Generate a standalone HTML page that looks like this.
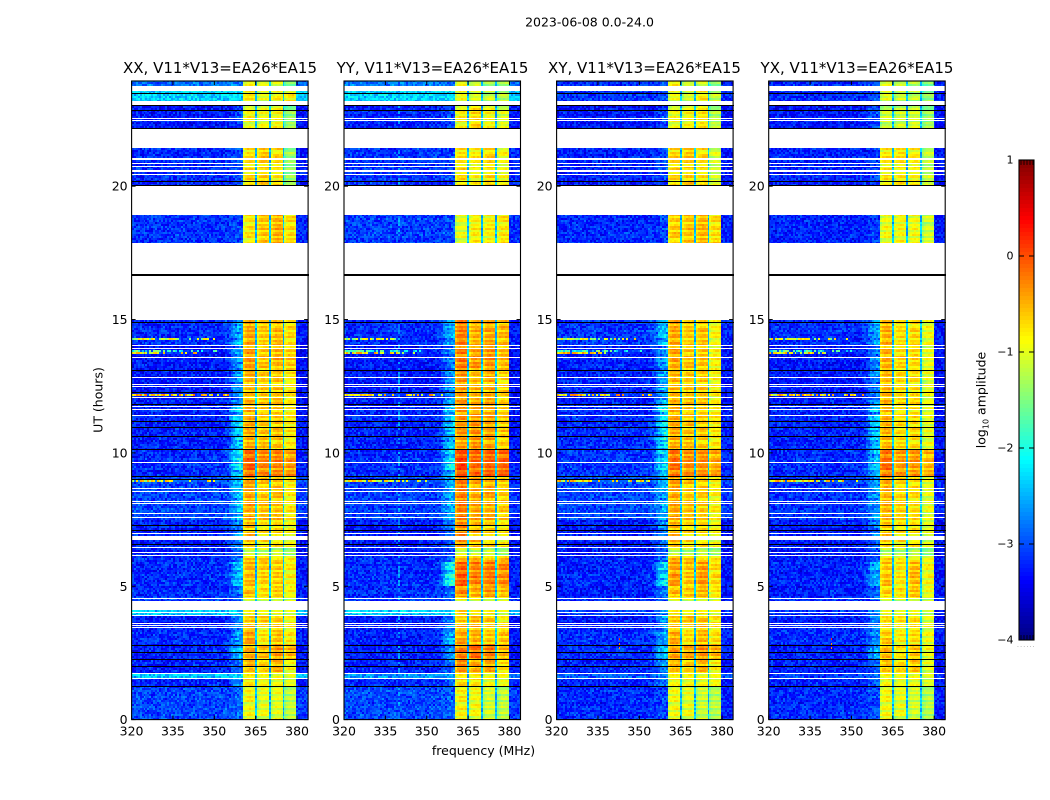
<!DOCTYPE html>
<html lang="en">
<head>
<meta charset="utf-8">
<title>2023-06-08 0.0-24.0</title>
<style>
html,body{margin:0;padding:0;background:#fff;}
#figure{display:block;width:1050px;height:800px;}
text{font-family:"DejaVu Sans","Liberation Sans",sans-serif;fill:#000;}
</style>
</head>
<body>
<svg id="figure" xmlns="http://www.w3.org/2000/svg" width="1050" height="800" viewBox="0 0 1050 800">
  <rect width="1050" height="800" fill="#fff"/>
  <text x="589.5" y="26.5" font-size="12.5" text-anchor="middle">2023-06-08 0.0-24.0</text>
  <text x="220" y="73" font-size="15" text-anchor="middle">XX, V11*V13=EA26*EA15</text>
  <text x="432.5" y="73" font-size="15" text-anchor="middle">YY, V11*V13=EA26*EA15</text>
  <text x="644.5" y="73" font-size="15" text-anchor="middle">XY, V11*V13=EA26*EA15</text>
  <text x="857" y="73" font-size="15" text-anchor="middle">YX, V11*V13=EA26*EA15</text>
  <text transform="translate(102.5,400) rotate(-90)" font-size="12.5" text-anchor="middle">UT (hours)</text>
  <text x="483.5" y="755" font-size="12.5" text-anchor="middle">frequency (MHz)</text>
  <text transform="translate(985.5,400) rotate(-90)" font-size="12.5" text-anchor="middle">log<tspan font-size="8" dy="3">10</tspan><tspan dy="-3"> amplitude</tspan></text>
  <text x="1017" y="647" font-size="6" fill="#888" style="fill:#888;letter-spacing:1.2px">......</text>
  <g id="panels"></g>
  <g id="colorbar"></g>
</svg>
<script>
// ---- axis tick values ----
const xTickValues = [320, 335, 350, 365, 380];
const yTickValues = [0, 5, 10, 15, 20];
const colorbarTickValues = [-4, -3, -2, -1, 0, 1];
const colorbarTickLabels = ['\u22124', '\u22123', '\u22122', '\u22121', '0', '1'];

// ---- observation blocks: [start hour, end hour] ----
const sectionHours = [
  [0, 1.25], [1.25, 1.55], [1.55, 1.70], [1.70, 2.22], [2.22, 2.82],
  [2.82, 3.54], [3.54, 3.91], [3.91, 4.10], [4.44, 4.59], [4.59, 5.0],
  [5.0, 5.9], [5.9, 6.12], [6.12, 6.46], [6.46, 7.47], [7.47, 9.12],
  [9.12, 10.13], [10.13, 11.82], [11.82, 13.10], [13.10, 14.03], [14.03, 14.99],
  [17.86, 18.91], [20.03, 21.42], [22.17, 23.03], [23.14, 23.57], [23.75, 23.95]
];

// ---- log10 amplitude per block: [background, 352-360 MHz haze, band 1, band 2, band 3, band 4] ----
const levelsXX = [
  [-3.05,-2.9,-0.95,-1.05,-1.05,-1.25],[-3.25,-2.75,-0.85,-0.95,-1.0,-1.15],[-2.45,-2.35,-0.9,-1.0,-1.0,-1.15],
  [-3.25,-2.85,-0.65,-0.75,-0.6,-0.95],[-3.25,-2.45,-0.55,-0.65,-0.45,-0.6],[-3.2,-2.65,-0.5,-0.85,-0.65,-0.85],
  [-3.3,-2.75,-0.7,-0.7,-0.7,-0.95],[-2.4,-2.35,-0.9,-1.0,-1.0,-1.1],[-3.1,-2.85,-1.05,-1.1,-1.05,-1.2],
  [-3.2,-2.75,-0.6,-0.8,-0.7,-0.95],[-3.2,-2.45,-0.6,-0.7,-0.7,-0.9],[-3.2,-2.75,-0.65,-0.65,-0.7,-0.95],
  [-3.25,-2.95,-1.2,-1.25,-1.25,-1.4],[-3.25,-2.75,-0.65,-0.8,-0.75,-0.95],[-3.05,-2.45,-0.5,-0.65,-0.65,-0.85],
  [-3.2,-2.2,-0.2,-0.35,-0.35,-0.45],[-3.25,-2.35,-0.55,-0.65,-0.65,-0.85],[-3.3,-2.65,-0.6,-0.7,-0.65,-0.85],
  [-3.3,-2.65,-0.45,-0.65,-0.55,-0.7],[-3.2,-2.55,-0.5,-0.7,-0.6,-0.8],[-3.15,-3.05,-0.85,-0.65,-0.55,-0.8],
  [-3.2,-3.05,-0.8,-0.7,-0.8,-1.4],[-3.3,-3.05,-0.95,-1.0,-0.95,-1.45],[-2.35,-2.3,-0.85,-1.1,-0.95,-0.9],
  [-2.85,-2.75,-1.0,-1.15,-1.05,-1.55]
];
const levelsYY = [
  [-3.05,-2.95,-0.9,-0.95,-1.15,-1.25],[-3.2,-2.85,-0.75,-0.85,-1.0,-1.1],[-2.65,-2.55,-0.9,-0.9,-1.0,-1.05],
  [-3.25,-2.85,-0.45,-0.55,-0.55,-0.8],[-3.25,-2.65,-0.35,-0.25,-0.3,-0.6],[-3.25,-2.55,-0.5,-0.55,-0.7,-0.65],
  [-3.3,-2.85,-0.7,-0.65,-0.7,-0.95],[-2.4,-2.35,-0.7,-0.9,-0.9,-1.1],[-3.1,-2.95,-0.9,-1.0,-1.1,-1.15],
  [-3.2,-2.85,-0.35,-0.55,-0.45,-0.65],[-3.2,-2.05,-0.15,-0.3,-0.3,-0.35],[-3.2,-2.75,-0.55,-0.55,-0.55,-0.65],
  [-3.25,-3.05,-1.15,-1.2,-1.25,-1.4],[-3.3,-2.85,-0.4,-0.55,-0.7,-0.85],[-3.1,-2.55,-0.3,-0.5,-0.55,-0.7],
  [-3.2,-2.25,-0.05,-0.2,-0.2,-0.2],[-3.25,-2.45,-0.45,-0.45,-0.5,-0.7],[-3.3,-2.65,-0.45,-0.6,-0.55,-0.75],
  [-3.3,-2.75,-0.3,-0.45,-0.4,-0.6],[-3.2,-2.55,-0.3,-0.55,-0.5,-0.6],[-3.1,-3.05,-1.05,-0.9,-0.9,-0.85],
  [-3.15,-3.05,-0.8,-0.9,-0.75,-0.95],[-3.25,-3.05,-0.9,-0.75,-0.95,-1.1],[-2.35,-2.3,-1.0,-1.15,-1.2,-1.3],
  [-2.8,-2.75,-1.05,-1.3,-1.35,-1.4]
];
const levelsXY = [
  [-3.2,-3.05,-1.0,-1.05,-1.2,-1.3],[-3.25,-2.85,-0.95,-1.0,-1.0,-1.05],[-2.95,-2.75,-0.95,-0.95,-1.0,-1.05],
  [-3.25,-2.75,-0.65,-0.75,-0.6,-0.9],[-3.2,-2.45,-0.5,-0.55,-0.4,-0.55],[-3.2,-2.65,-0.55,-0.8,-0.6,-0.8],
  [-3.3,-2.65,-0.7,-0.65,-0.65,-0.85],[-3.1,-2.65,-0.85,-0.95,-0.9,-1.05],[-3.2,-2.95,-0.95,-1.05,-1.0,-1.15],
  [-3.25,-2.75,-0.6,-0.7,-0.6,-0.85],[-3.25,-2.25,-0.45,-0.65,-0.45,-0.75],[-3.25,-2.85,-0.5,-0.65,-0.7,-0.85],
  [-3.3,-3.05,-1.25,-1.3,-1.3,-1.4],[-3.3,-2.75,-0.6,-0.75,-0.75,-0.95],[-3.05,-2.55,-0.5,-0.65,-0.7,-0.9],
  [-3.15,-2.35,-0.25,-0.4,-0.4,-0.5],[-3.2,-2.25,-0.55,-0.65,-0.7,-0.85],[-3.25,-2.55,-0.6,-0.7,-0.7,-0.9],
  [-3.25,-2.65,-0.5,-0.65,-0.65,-0.9],[-3.15,-2.45,-0.5,-0.7,-0.65,-0.95],[-3.2,-3.05,-0.7,-0.65,-0.6,-0.8],
  [-3.25,-3.05,-0.75,-0.7,-0.8,-1.1],[-3.3,-3.05,-1.0,-0.95,-0.85,-1.3],[-3.15,-3.05,-1.05,-1.2,-0.85,-1.25],
  [-3.2,-3.05,-0.95,-1.25,-1.1,-1.55]
];
const levelsYX = [
  [-3.2,-3.05,-0.95,-1.05,-1.15,-1.3],[-3.25,-2.95,-0.95,-1.05,-1.0,-1.2],[-3.1,-2.85,-0.95,-1.0,-1.0,-1.2],
  [-3.25,-2.95,-0.7,-0.8,-0.7,-1.05],[-3.25,-2.55,-0.6,-0.85,-0.65,-1.0],[-3.2,-2.75,-0.7,-0.9,-0.8,-1.0],
  [-3.3,-2.75,-0.8,-0.85,-0.8,-1.1],[-3.2,-2.75,-1.0,-1.1,-1.0,-1.2],[-3.2,-2.95,-1.05,-1.1,-1.05,-1.25],
  [-3.25,-2.85,-0.7,-0.85,-0.65,-1.05],[-3.25,-2.55,-0.65,-0.85,-0.6,-0.95],[-3.25,-2.95,-0.7,-0.85,-0.85,-1.05],
  [-3.3,-3.05,-1.3,-1.35,-1.35,-1.5],[-3.3,-2.85,-0.7,-0.8,-0.8,-1.05],[-3.15,-2.65,-0.55,-0.75,-0.8,-1.05],
  [-3.2,-2.45,-0.25,-0.45,-0.45,-0.6],[-3.25,-2.45,-0.6,-0.8,-0.8,-1.05],[-3.3,-2.75,-0.6,-0.8,-0.8,-1.05],
  [-3.3,-2.75,-0.55,-0.75,-0.75,-1.05],[-3.2,-2.65,-0.55,-0.8,-0.75,-1.0],[-3.25,-3.1,-1.0,-0.95,-1.0,-1.15],
  [-3.25,-3.1,-0.85,-0.85,-0.9,-1.2],[-3.3,-3.0,-1.15,-1.2,-1.15,-1.4],[-3.2,-3.05,-1.1,-1.25,-1.25,-1.5],
  [-3.2,-3.05,-1.1,-1.3,-1.25,-1.6]
];

// ---- flagged integrations (white) [start hour, end hour] and zero rows (black) hour ----
const flaggedHours = [
  [22.51,22.55],[22.45,22.49],[20.99,21.07],[20.82,20.87],[20.71,20.75],[20.55,20.60],[20.42,20.47],
  [13.99,14.03],[13.90,13.94],[13.55,13.59],[12.80,12.84],[12.53,12.57],[12.47,12.51],[12.05,12.09],
  [11.73,11.77],[11.61,11.65],[11.38,11.42],[9.62,9.66],[8.64,8.68],[8.55,8.59],[8.17,8.21],[8.09,8.13],
  [7.70,7.74],[7.55,7.59],[6.95,6.99],[6.72,6.88],[6.43,6.47],[6.23,6.27],[6.15,6.19],[4.52,4.56],
  [3.98,4.02],[3.88,3.92],[3.60,3.64],[3.50,3.54],[3.45,3.49],[1.70,1.74],[1.52,1.56],[23.14,23.18]
];
const zeroRowHours = [
  23.48,23.05,22.87,22.17,20.19,20.03,14.92,13.09,12.28,11.82,11.21,10.98,10.64,10.13,9.13,9.01,
  7.31,7.12,6.60,2.81,2.55,2.29,2.02,1.25
];
const thickLineHours = [16.66];

// ---- interference rows: [hour, last affected MHz, log10 amplitude] ----
const rfiRows = [[14.32,350,-1.1],[13.87,352,-1.9],[13.76,346,-0.8],[12.18,356,-0.7],[8.96,354,-0.9]];
// ---- vertical interference lines per panel: [panel index, MHz, log10 amplitude] ----
const rfiColumns = [[1,339.7,-2.6]];
// ---- isolated spikes: [panel index, MHz, hour, log10 amplitude] ----
const spikes = [[2,342.6,3.05,0.2],[2,342.6,2.88,-0.3],[2,342.6,2.72,-0.3],[3,342.6,3.05,0.2],[3,342.6,2.88,-0.3],[3,342.6,2.72,-0.3]];

// ---- channel profiles ----
const hazeProfile = [0,0.03,0.1,0.28,0.52,0.78,0.95,1,0.9]; // 352..360 MHz
const bandEdgeProfile = [-0.18,-0.02,0.05,0.06,0.05,0.02,-0.12]; // across one 5 MHz sub-band
const gapCentres = [365,370,375];
const gapLevel = -2.45;

// ---- image texture sampled as a table: row-to-row stripes and pixel speckle ----
const rowStripes = [0.2,-0.3,0.25,0.1,-0.35,0.3,0.15,-0.2,-0.4,0.3,0.05,0.28,-0.3,0.12,0.3,-0.15,-0.35,0.22,0.1,-0.25,0.3,-0.1,0.18,-0.38,0.26,0.08,-0.22,0.32,-0.05];
const speckle = [
  0.42,-0.71,0.13,0.88,-0.36,-0.92,0.57,0.05,-0.48,0.76,-0.15,0.31,-0.83,0.64,-0.27,0.95,-0.58,0.2,-0.05,0.49,
  -0.97,0.72,0.1,-0.41,0.36,-0.66,0.83,-0.19,0.54,-0.78,0.02,0.67,-0.31,-0.87,0.45,0.91,-0.53,0.24,-0.12,0.6,
  -0.74,0.16,0.8,-0.44,-0.08,0.5,-0.95,0.34,0.7,-0.22,-0.62,0.93,-0.38,0.08,0.58,-0.81,0.27,-0.01,0.85,-0.55,
  0.39,-0.89,0.62,-0.17,0.11,-0.68,0.77,-0.29,0.47,-0.99,0.22,0.69,-0.46,-0.1,0.98,-0.6,0.3,-0.76,0.52,0.03,
  -0.33,0.82,-0.5,0.18,-0.85,0.4,0.74,-0.25,-0.64,0.56,-0.07,0.9,-0.42,0.15,-0.79,0.33,0.61
];

// ---- layout and scales ----
const NS = 'http://www.w3.org/2000/svg';
const panelNames = ['xx','yy','xy','yx'];
const panelLevels = [levelsXX, levelsYY, levelsXY, levelsYX];
const panelLefts = [131.6, 344, 556.6, 768.7];
const panelWidth = 176.5, axisTop = 81, axisBottom = 719.6;
const freqMin = 320, freqMax = 384, freqStep = 0.72, hourStep = 0.075;

function xScale(p, f) { return panelLefts[p] + (f - freqMin) * panelWidth / (freqMax - freqMin); }
function yScale(h) { return axisBottom - h * 26.67; }
function cbScale(v) { return 640 - (v + 4) * 96; }

function jet(t) {
  t = Math.max(0, Math.min(1, t));
  const ramp = c => Math.round(255 * Math.max(0, Math.min(1, 1.5 - Math.abs(4 * t - c))));
  return 'rgb(' + ramp(3) + ',' + ramp(2) + ',' + ramp(1) + ')';
}
function levelToUnit(v) { return (v + 4) / 5; }

function make(tag, attrs, parent) {
  const el = document.createElementNS(NS, tag);
  for (const k in attrs) el.setAttribute(k, attrs[k]);
  parent.appendChild(el);
  return el;
}

function speckleIndex(i) { return Math.floor((speckle[i % speckle.length] + 1) * 48); }

function cellValue(p, lv, f, col, row, hour) {
  const a = speckleIndex(col + p * 13);
  const b = speckleIndex(row + p * 29);
  const t1 = speckle[(a * b + a + 3 * b + col * 5) % speckle.length];
  const t2 = speckle[(a * 7 + b * b + row) % speckle.length];
  for (const rc of rfiColumns) {
    if (rc[0] === p && Math.abs(f - rc[1]) < freqStep / 2 && f < 360 && t1 > 0) return rc[2] + t2 * 0.2;
  }
  for (const r of rfiRows) {
    if (Math.abs(hour - r[0]) < hourStep / 2 && f < r[1]) {
      const keep = 1 - (f - freqMin) / (r[1] - freqMin) * 0.75;
      if ((t1 + 1) / 2 < keep) return r[2] + t2 * 0.6;
    }
  }
  if (f >= 380) return lv[0] - 0.06 + t1 * 0.3;
  if (f >= 360.4) {
    for (const g of gapCentres) if (Math.abs(f - g) < 0.6) return gapLevel + t1 * 0.3;
    const band = Math.min(3, Math.floor((f - 360.4) / 5));
    const pos = Math.min(bandEdgeProfile.length - 1, Math.floor(((f - 360.4) - band * 5) / 5 * bandEdgeProfile.length));
    const stripe = rowStripes[(row + band * 7) % rowStripes.length];
    return lv[2 + band] + bandEdgeProfile[pos] + stripe * 0.62 + t1 * 0.1;
  }
  let v = lv[0];
  const stripe = rowStripes[row % rowStripes.length];
  if (f >= 352) {
    const w = hazeProfile[Math.min(hazeProfile.length - 1, Math.floor(f - 352))];
    v += (lv[1] - lv[0]) * w * (1 + stripe * 0.8);
  }
  return v + t1 * 0.3 + t2 * 0.12 + stripe * 0.12;
}

function drawHeatmap(p, group) {
  const lv = panelLevels[p];
  const paths = {};
  const cols = Math.ceil((freqMax - freqMin) / freqStep);
  sectionHours.forEach((sec, si) => {
    const r0 = Math.floor(sec[0] / hourStep);
    const r1 = Math.ceil(sec[1] / hourStep);
    for (let r = r0; r < r1; r++) {
      const hA = Math.max(r * hourStep, sec[0]);
      const hB = Math.min((r + 1) * hourStep, sec[1]);
      const yB = Math.round(Math.max(axisTop, yScale(hB)));
      const yA = Math.round(yScale(hA));
      if (yA <= yB) continue;
      for (let c = 0; c < cols; c++) {
        const f0 = freqMin + c * freqStep;
        const f1 = Math.min(freqMax, f0 + freqStep);
        const xa = Math.round(xScale(p, f0));
        const xb = Math.round(xScale(p, f1));
        if (xb <= xa) continue;
        const v = cellValue(p, lv[si], (f0 + f1) / 2, c, r, (hA + hB) / 2);
        const idx = Math.max(0, Math.min(127, Math.round(levelToUnit(v) * 127)));
        paths[idx] = (paths[idx] || '') + 'M' + xa + ' ' + yB + 'h' + (xb - xa) + 'v' + (yA - yB) + 'h' + (xa - xb) + 'z';
      }
    }
  });
  Object.keys(paths).forEach(idx => {
    const el = make('path', { d: paths[idx], fill: jet(idx / 127), 'shape-rendering': 'crispEdges' }, group);
    
    
  });
  spikes.filter(s => s[0] === p).forEach(s => {
    const el = make('rect', { x: Math.round(xScale(p, s[1])), y: Math.round(yScale(s[2])), width: 1, height: 2, fill: jet(levelToUnit(s[3])), 'shape-rendering': 'crispEdges' }, group);
    
    
  });
}

function drawRows(p, group) {
  const xa = Math.round(panelLefts[p]);
  const w = Math.round(panelWidth);
  flaggedHours.forEach(b => {
    const yT = Math.round(yScale(b[1]));
    const yB = Math.max(yT + 1, Math.round(yScale(b[0])));
    const el = make('rect', { x: xa, y: yT, width: w, height: yB - yT, fill: '#fff', 'shape-rendering': 'crispEdges' }, group);
    
    
  });
  zeroRowHours.forEach(h => {
    const el = make('rect', { x: xa, y: Math.round(yScale(h)), width: w, height: 1, fill: '#000', 'shape-rendering': 'crispEdges' }, group);
    
    
  });
  thickLineHours.forEach(h => {
    const el = make('rect', { x: xa, y: Math.round(yScale(h)) - 1, width: w, height: 2, fill: '#000', 'shape-rendering': 'crispEdges' }, group);
    
    
  });
}

function drawAxes(p, group) {
  const left = panelLefts[p];
  const right = left + panelWidth;
  xTickValues.forEach(v => {
    const x = xScale(p, v);
    const t1 = make('line', { x1: x, x2: x, y1: axisBottom, y2: axisBottom - 4, stroke: '#000', 'stroke-width': 1 }, group);
    
    
    const t2 = make('line', { x1: x, x2: x, y1: axisTop, y2: axisTop + 4, stroke: '#000', 'stroke-width': 1 }, group);
    
    
    const lab = make('text', { x: x, y: 735.5, 'font-size': 12.5, 'text-anchor': 'middle' }, group);
    lab.textContent = String(v);
    
    
  });
  yTickValues.forEach(v => {
    const y = yScale(v);
    const t1 = make('line', { x1: left, x2: left + 4, y1: y, y2: y, stroke: '#000', 'stroke-width': 1 }, group);
    
    
    const t2 = make('line', { x1: right, x2: right - 4, y1: y, y2: y, stroke: '#000', 'stroke-width': 1 }, group);
    
    
    const lab = make('text', { x: left - 4, y: y + 4.5, 'font-size': 12.5, 'text-anchor': 'end' }, group);
    lab.textContent = String(v);
    
    
  });
  const frame = make('rect', { x: left, y: axisTop, width: panelWidth, height: axisBottom - axisTop, fill: 'none', stroke: '#000', 'stroke-width': 1.1 }, group);
  
  
}

const panelsRoot = document.getElementById('panels');
panelNames.forEach((name, p) => {
  const g = make('g', {}, panelsRoot);
  
  
  drawHeatmap(p, g);
  drawRows(p, g);
  drawAxes(p, g);
});

// ---- colorbar ----
const cbRoot = document.getElementById('colorbar');
const cbLeft = 1019, cbWidth = 15;
for (let i = 0; i < 120; i++) {
  const lo = -4 + i * 5 / 120;
  const hi = -4 + (i + 1) * 5 / 120;
  const yT = Math.round(cbScale(hi));
  const yB = Math.round(cbScale(lo));
  const seg = make('rect', { x: cbLeft, y: yT, width: cbWidth, height: yB - yT, fill: jet((i + 0.5) / 120), 'shape-rendering': 'crispEdges' }, cbRoot);
  
  
}
colorbarTickValues.forEach((v, i) => {
  const y = cbScale(v);
  const t1 = make('line', { x1: cbLeft, x2: cbLeft + 5, y1: y, y2: y, stroke: '#000', 'stroke-width': 1 }, cbRoot);
  
  
  const t2 = make('line', { x1: cbLeft + cbWidth, x2: cbLeft + cbWidth - 5, y1: y, y2: y, stroke: '#000', 'stroke-width': 1 }, cbRoot);
  
  
  const lab = make('text', { x: 1013.5, y: y + 3.5, 'font-size': 11, 'text-anchor': 'end' }, cbRoot);
  lab.textContent = colorbarTickLabels[i];
  
  
});
[2, 5, 8, 11, 14].forEach(dx => {
  const top = make('line', { x1: cbLeft + dx, x2: cbLeft + dx, y1: 160, y2: 165, stroke: '#000', 'stroke-width': 0.8 }, cbRoot);
  
  
  const bot = make('line', { x1: cbLeft + dx, x2: cbLeft + dx, y1: 640, y2: 635, stroke: '#000', 'stroke-width': 0.8 }, cbRoot);
  
  
});
const cbFrame = make('rect', { x: cbLeft, y: 160, width: cbWidth, height: 480, fill: 'none', stroke: '#000', 'stroke-width': 1.1 }, cbRoot);


</script>
</body>
</html>
